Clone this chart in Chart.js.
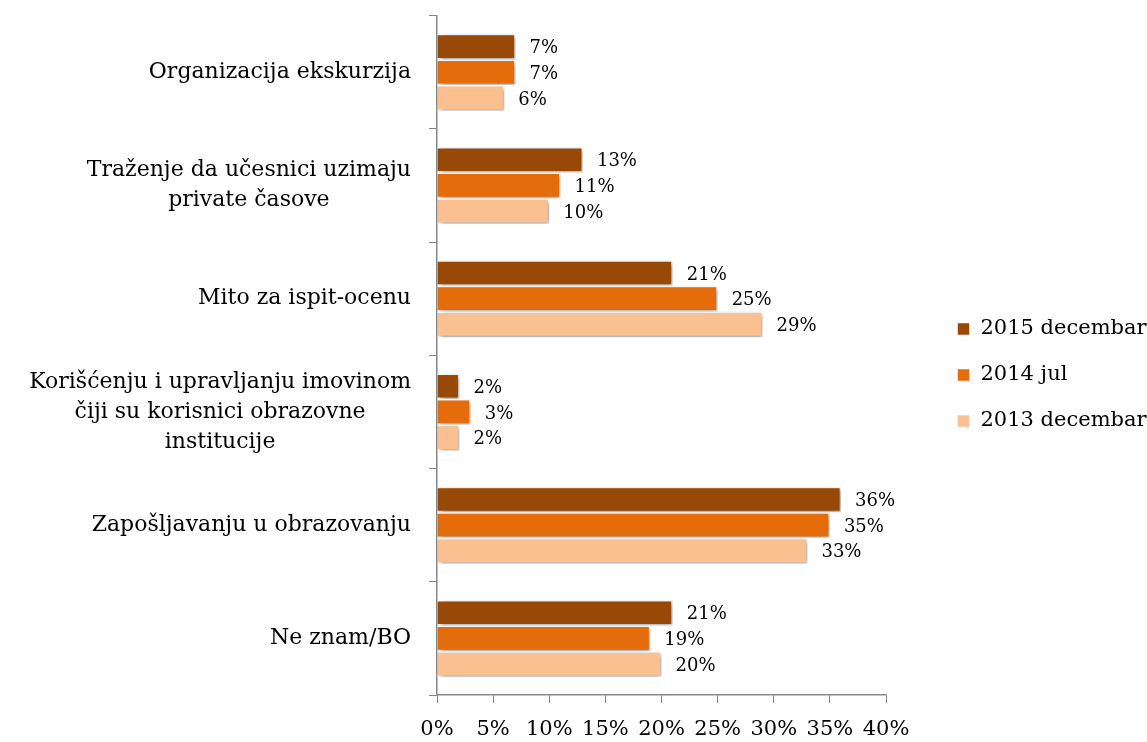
<!DOCTYPE html>
<html>
<head>
<meta charset="utf-8">
<script src="https://cdn.jsdelivr.net/npm/chart.js@4.4.1/dist/chart.umd.min.js"></script>
<style>
  html, body { margin: 0; padding: 0; background: #fff; }
  #wrap { width: 1147px; height: 742px; }
</style>
</head>
<body>
<div id="wrap"><canvas id="chart"></canvas></div>
<script>
const categories = [
    ['Organizacija ekskurzija'],
    ['Traženje da učesnici uzimaju', 'privatе časove'],
    ['Mito za ispit-ocenu'],
    ['Korišćenju i upravljanju imovinom', 'čiji su korisnici obrazovne', 'institucije'],
    ['Zapošljavanju u obrazovanju'],
    ['Ne znam/BO']
];
const seriesNames = ['2015 decembar', '2014 jul', '2013 decembar'];
const dec2015 = [7, 13, 21, 2, 36, 21];
const jul2014 = [7, 11, 25, 3, 35, 19];
const dec2013 = [6, 10, 29, 2, 33, 20];
const xTicks = [0, 5, 10, 15, 20, 25, 30, 35, 40];

const COLORS = { dark: '#984807', mid: '#e46c0a', light: '#fac090', axis: '#868686', text: '#000000' };
const FONT = "'DejaVu Serif', 'Liberation Serif', serif";

Chart.defaults.font.family = FONT;
Chart.defaults.color = COLORS.text;

// soft drop shadow behind the bars
const shadowPlugin = {
    id: 'barShadow',
    beforeDatasetsDraw(chart) {
        const c = chart.ctx;
        c.save();
        c.shadowColor = 'rgba(0,0,0,0.4)';
        c.shadowBlur = 5;
        c.shadowOffsetX = 2;
        c.shadowOffsetY = 2;
    },
    afterDatasetsDraw(chart) { chart.ctx.restore(); }
};

// value labels at bar ends
const valueLabels = {
    id: 'valueLabels',
    afterDatasetsDraw(chart) {
        const c = chart.ctx;
        c.save();
        c.font = '18px ' + FONT;
        c.fillStyle = COLORS.text;
        c.textBaseline = 'middle';
        c.textAlign = 'left';
        chart.data.datasets.forEach((ds, i) => {
            chart.getDatasetMeta(i).data.forEach((bar, j) => {
                c.fillText(ds.data[j] + '%', bar.x + 14, bar.y + 2);
            });
        });
        c.restore();
    }
};

// category labels: block right-aligned, lines centred inside the block
const catLabels = {
    id: 'catLabels',
    afterDraw(chart) {
        const c = chart.ctx;
        const y = chart.scales.y;
        const size = 22, lh = 30;
        c.save();
        c.font = size + 'px ' + FONT;
        c.fillStyle = COLORS.text;
        c.textAlign = 'center';
        c.textBaseline = 'middle';
        categories.forEach((lines, i) => {
            const w = Math.max(...lines.map(l => c.measureText(l).width));
            const cx = y.right - 26 - w / 2;
            const cy = y.getPixelForValue(i);
            const top = cy - (lines.length - 1) * lh / 2;
            lines.forEach((l, k) => c.fillText(l, cx, top + k * lh));
        });
        c.restore();
    }
};

// fixed legend column so the plot ends where the reference does
const legendWidth = {
    id: 'legendWidth',
    afterInit(chart) {
        const lg = chart.legend;
        const fit = lg.fit;
        lg.fit = function () { fit.call(this); this.width = 261; };
    },
    afterLayout(chart) { chart.legend.left += 46; }
};

new Chart(document.getElementById('chart'), {
    type: 'bar',
    data: {
        labels: categories.map(l => l.join(' ')),
        datasets: [
            { label: seriesNames[0], data: dec2015, backgroundColor: COLORS.dark },
            { label: seriesNames[1], data: jul2014, backgroundColor: COLORS.mid },
            { label: seriesNames[2], data: dec2013, backgroundColor: COLORS.light }
        ]
    },
    options: {
        indexAxis: 'y',
        responsive: true, maintainAspectRatio: false, animation: false,
        datasets: { bar: { categoryPercentage: 0.68, barPercentage: 1, borderColor: '#ffffff', borderWidth: 1.5 } },
        layout: { padding: { top: 8, right: 0, bottom: 0, left: 0 } },
        plugins: {
            tooltip: { enabled: false },
            legend: {
                position: 'right',
                labels: { boxWidth: 13, boxHeight: 13, padding: 25, font: { size: 21 }, color: COLORS.text }
            }
        },
        scales: {
            x: {
                min: 0, max: 40,
                afterBuildTicks: s => { s.ticks = xTicks.map(v => ({ value: v })); },
                ticks: { callback: v => v + '%', font: { size: 21 }, padding: 14, maxRotation: 0, autoSkip: false },
                grid: { drawOnChartArea: false, color: COLORS.axis, tickLength: 8 },
                border: { color: COLORS.axis, width: 1.5 },
                afterFit: s => { s.height = 47; }
            },
            y: {
                ticks: { color: 'rgba(0,0,0,0)', font: { size: 21 } },
                grid: { drawOnChartArea: false, offset: true, color: COLORS.axis, tickLength: 8 },
                border: { color: COLORS.axis, width: 1.5 },
                afterFit: s => { s.width = 437; }
            }
        }
    },
    plugins: [shadowPlugin, valueLabels, catLabels, legendWidth]
});
</script>
</body>
</html>
